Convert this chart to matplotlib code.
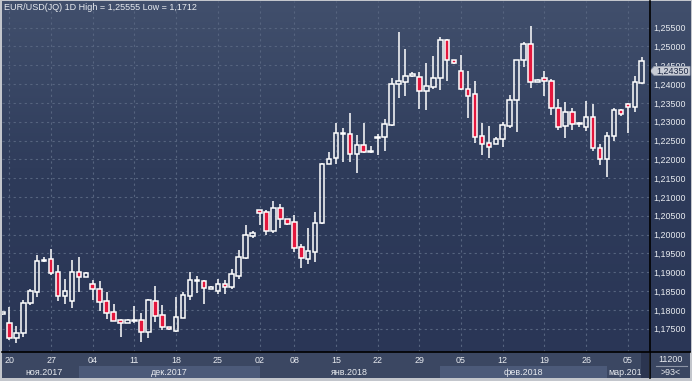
import numpy as np
import matplotlib
matplotlib.use('Agg')
import matplotlib.pyplot as plt
from matplotlib.patches import Polygon, Rectangle
from matplotlib.lines import Line2D
from matplotlib.colors import LinearSegmentedColormap

# ---------------- data ----------------
opens = [1.17889, 1.17642, 1.17259, 1.17376, 1.18174, 1.18482, 1.19298, 1.19343, 1.18998, 1.18376,
         1.18235, 1.18998, 1.18881, 1.18679, 1.18546, 1.18235, 1.17934, 1.17730, 1.17642, 1.17703,
         1.17730, 1.17419, 1.18235, 1.17863, 1.17536, 1.17445, 1.17791, 1.18376, 1.18759, 1.18766,
         1.18562, 1.18509, 1.18679, 1.18615, 1.18907, 1.19386, 1.19971, 1.20646, 1.20601, 1.20104,
         1.20699, 1.20407, 1.20327, 1.19657, 1.19359, 1.19545, 1.20300, 1.21869, 1.22028, 1.22661,
         1.22666, 1.22134, 1.22374, 1.22196, 1.22576, 1.22586, 1.22913, 1.23995, 1.24064, 1.24208,
         1.24181, 1.23825, 1.23931, 1.24155, 1.25165, 1.24633, 1.24349, 1.23862, 1.23737, 1.22613,
         1.22427, 1.22416, 1.22533, 1.22895, 1.23570, 1.24633, 1.25058, 1.24048, 1.24155, 1.24075,
         1.23357, 1.22895, 1.23251, 1.22945, 1.22868, 1.23118, 1.22294, 1.22002, 1.22613, 1.23312,
         1.23464, 1.23384, 1.24022]
highs = [1.17942, 1.18083, 1.17570, 1.18261, 1.18546, 1.19458, 1.19396, 1.19617, 1.19192, 1.18820,
         1.19325, 1.19412, 1.18998, 1.18793, 1.18766, 1.18474, 1.18155, 1.17756, 1.17756, 1.18102,
         1.17924, 1.18275, 1.18634, 1.18129, 1.17544, 1.18349, 1.18482, 1.19014, 1.18899, 1.18793,
         1.18634, 1.18820, 1.18793, 1.19085, 1.19590, 1.20255, 1.20104, 1.20654, 1.20654, 1.20893,
         1.20813, 1.20415, 1.20521, 1.19750, 1.20167, 1.20593, 1.21895, 1.22196, 1.22958, 1.22826,
         1.23224, 1.22647, 1.22958, 1.22355, 1.22674, 1.23073, 1.24155, 1.25377, 1.24926, 1.24330,
         1.24314, 1.24553, 1.24747, 1.25245, 1.25207, 1.24641, 1.24774, 1.24349, 1.24083, 1.22958,
         1.22887, 1.22586, 1.22985, 1.23711, 1.24641, 1.25120, 1.25555, 1.24136, 1.24349, 1.24128,
         1.23604, 1.23525, 1.23365, 1.23001, 1.23551, 1.23471, 1.22400, 1.22719, 1.23357, 1.23325,
         1.23506, 1.24216, 1.24713]
lows = [1.17863, 1.17198, 1.17120, 1.17286, 1.18121, 1.18349, 1.19272, 1.18934, 1.18235, 1.18155,
        1.18057, 1.18482, 1.18873, 1.18261, 1.17977, 1.17756, 1.17703, 1.17286, 1.17637, 1.17642,
        1.17153, 1.17259, 1.17685, 1.17464, 1.17477, 1.17403, 1.17775, 1.18261, 1.18455, 1.18147,
        1.18554, 1.18413, 1.18421, 1.18546, 1.18828, 1.19351, 1.19917, 1.20255, 1.19989, 1.20034,
        1.20183, 1.20268, 1.19545, 1.19120, 1.19210, 1.19280, 1.20274, 1.21863, 1.21869, 1.21938,
        1.21938, 1.21645, 1.22177, 1.22161, 1.22116, 1.22230, 1.22887, 1.23639, 1.23684, 1.24181,
        1.23347, 1.23312, 1.23862, 1.23844, 1.24091, 1.24527, 1.23844, 1.23107, 1.22443, 1.22116,
        1.22044, 1.22400, 1.22328, 1.22842, 1.22735, 1.24463, 1.23905, 1.24043, 1.23684, 1.23187,
        1.22780, 1.22576, 1.22780, 1.22868, 1.22754, 1.22214, 1.21850, 1.21539, 1.22496, 1.23161,
        1.22693, 1.23267, 1.24003]
closes = [1.17929, 1.17259, 1.17376, 1.18174, 1.18501, 1.19306, 1.19317, 1.18987, 1.18376, 1.18493,
          1.18998, 1.18881, 1.18971, 1.18546, 1.18216, 1.17924, 1.17711, 1.17642, 1.17730, 1.17717,
          1.17419, 1.18261, 1.17844, 1.17536, 1.17483, 1.17802, 1.18394, 1.18793, 1.18785, 1.18572,
          1.18607, 1.18679, 1.18615, 1.18945, 1.19396, 1.19989, 1.20050, 1.20582, 1.20104, 1.20699,
          1.20407, 1.20274, 1.19652, 1.19365, 1.19564, 1.20300, 1.21869, 1.22002, 1.22693, 1.22701,
          1.22134, 1.22374, 1.22204, 1.22214, 1.22594, 1.22932, 1.23995, 1.24083, 1.24216, 1.24269,
          1.23809, 1.23942, 1.24155, 1.25165, 1.24633, 1.24553, 1.23862, 1.23697, 1.22586, 1.22416,
          1.22336, 1.22533, 1.22905, 1.23570, 1.24633, 1.25058, 1.24048, 1.24101, 1.24075, 1.23357,
          1.22868, 1.23251, 1.22948, 1.22955, 1.23118, 1.22294, 1.22002, 1.22621, 1.23312, 1.23206,
          1.23384, 1.24056, 1.24623]

# weekly tick labels (Mondays / first trading day) and their bar index
day_ticks = [1, 7, 13, 19, 25, 31, 37, 42, 48, 54, 60, 66, 72, 78, 84, 90]
day_labels = ["20", "27", "04", "11", "18", "25", "02", "08", "15", "22", "29", "05", "12", "19", "26", "05"]
# months: first bar index of each month (Nov shown from first full bar)
month_starts = [1, 11, 37, 63, 87]
month_labels = ["ноя.2017", "дек.2017", "янв.2018", "фев.2018", "мар.2018"]
y_ticks = [1.175, 1.180, 1.185, 1.190, 1.195, 1.200, 1.205, 1.210, 1.215,
           1.220, 1.225, 1.230, 1.235, 1.240, 1.245, 1.250, 1.255]
title = "EUR/USD(JQ) 1D High = 1,25555 Low = 1,1712"
last_price = 1.2435
last_price_label = "1,24350"
volume_label = "11200"
bars_label = ">93<"

# ---------------- figure ----------------
W, H = 692, 381
fig = plt.figure(figsize=(W / 100, H / 100), dpi=100)
fig.patch.set_facecolor('#c3c6cc')
FONT = 'Liberation Sans'
TXT = '#e8ebf0'


def box(x0, y0, x1, y1):
    return [x0 / W, 1 - y1 / H, (x1 - x0) / W, (y1 - y0) / H]


grad_cmap = LinearSegmentedColormap.from_list(
    'bg', [(0.0, '#414f6c'), (0.2, '#3a4866'), (0.5, '#2e3b5a'), (1.0, '#2a3656')])
grad = np.linspace(0, 1, 256).reshape(-1, 1)

# right price panel background
rp = fig.add_axes(box(649, 1, 690, 352))
rp.imshow(grad, cmap=grad_cmap, aspect='auto', extent=[0, 1, 0, 1])
rp.set_axis_off()

# main axes
ax = fig.add_axes(box(2, 1, 649, 352))
ax.set_zorder(2)
ax.patch.set_alpha(0)
ax.imshow(grad, cmap=grad_cmap, aspect='auto', extent=[0, 1, 0, 1],
          transform=ax.transAxes, zorder=0)

o = np.array(opens); h = np.array(highs); l = np.array(lows); c = np.array(closes)
x = np.arange(len(o))
up = c >= o
blo = np.minimum(o, c)
bhi = np.maximum(o, c)
ax.vlines(x, bhi, h, color='white', lw=1.1, zorder=3)
ax.vlines(x, l, blo, color='white', lw=1.1, zorder=3)
ax.bar(x[up], (bhi - blo)[up], bottom=blo[up], width=0.66, facecolor='none',
       edgecolor='white', linewidth=1.1, zorder=4)
ax.bar(x[~up], (bhi - blo)[~up], bottom=blo[~up], width=0.66, facecolor='#e3173d',
       edgecolor='white', linewidth=1.1, zorder=4)

ax.set_xlim(-0.06, 93.04)
ax.set_ylim(1.16879, 1.26209)
ax.set_xticks(day_ticks)
ax.set_yticks(y_ticks)
ax.set_yticklabels([f"{v:.5f}".replace('.', ',') for v in y_ticks])
ax.yaxis.tick_right()
ax.tick_params(axis='y', length=0, pad=3, labelsize=6.4, labelcolor=TXT)
for t in ax.get_yticklabels():
    t.set_fontfamily(FONT)
ax.tick_params(axis='x', length=0, labelbottom=False)
ax.grid(True, color='#56647f', linestyle=(0, (2, 3)), linewidth=0.8, zorder=1)
for s in ax.spines.values():
    s.set_visible(False)

ax.text(0.003, 0.993, title, transform=ax.transAxes, ha='left', va='top',
        fontsize=6.5, color=TXT, family=FONT, zorder=6)

# last price marker on the right panel (covers the neighbouring tick label as in the source)
fig.canvas.draw()
yp = ax.transData.transform((0, last_price))[1] / H
hh = 4.4 / H
pts = [(650 / W, yp), (654 / W, yp + hh), (690 / W, yp + hh), (690 / W, yp - hh), (654 / W, yp - hh)]
fig.add_artist(Polygon(pts, closed=True, transform=fig.transFigure, facecolor='#c8ccd5',
                       edgecolor='#9aa1b0', linewidth=0.6, zorder=10))
fig.text(656 / W, yp, last_price_label, ha='left', va='center', fontsize=6.4,
         color='#1b2642', family=FONT, zorder=11)

# bottom date axis
xa = fig.add_axes(box(2, 352, 649, 378))
xa.set_xlim(ax.get_xlim())
xa.set_ylim(0, 1)
xa.set_facecolor('#3b4762')
bounds = month_starts + [93.04]
for k in range(len(month_labels)):
    a, b = bounds[k], bounds[k + 1]
    if k % 2 == 1:
        xa.axvspan(a, b, ymin=0, ymax=0.46, color='#4c5a79', lw=0)
    xa.text((a + b) / 2, 0.23, month_labels[k], ha='center', va='center',
            fontsize=6.4, color=TXT, family=FONT, clip_on=True)
for t, lab in zip(day_ticks, day_labels):
    xa.text(t, 0.68, lab, ha='center', va='center', fontsize=6.4, color=TXT, family=FONT)
xa.add_patch(Rectangle((91.9, 0), 1.2, 1, facecolor='#2b3550', edgecolor='none', zorder=5))
xa.set_xticks([]); xa.set_yticks([])
for s in xa.spines.values():
    s.set_visible(False)

# bottom right panel
br = fig.add_axes(box(650, 352, 690, 378))
br.set_facecolor('#3a4661')
br.set_xlim(0, 1); br.set_ylim(0, 1)
br.text(0.52, 0.72, volume_label, ha='center', va='center', fontsize=6.4, color=TXT, family=FONT)
br.text(0.52, 0.22, bars_label, ha='center', va='center', fontsize=6.4, color=TXT, family=FONT)
br.plot([0.14, 0.93], [0.48, 0.48], color='#8c94a6', lw=0.8)
br.set_xticks([]); br.set_yticks([])
for s in br.spines.values():
    s.set_visible(False)

# black separators
fig.add_artist(Line2D([2 / W, 690 / W], [1 - 352 / H, 1 - 352 / H], color='black', lw=1.2,
                      transform=fig.transFigure, zorder=12))
fig.add_artist(Line2D([649.5 / W, 649.5 / W], [1 - 1 / H, 1 - 378 / H], color='black', lw=1.2,
                      transform=fig.transFigure, zorder=12))

fig.savefig('out.png', dpi=100, facecolor=fig.get_facecolor())
